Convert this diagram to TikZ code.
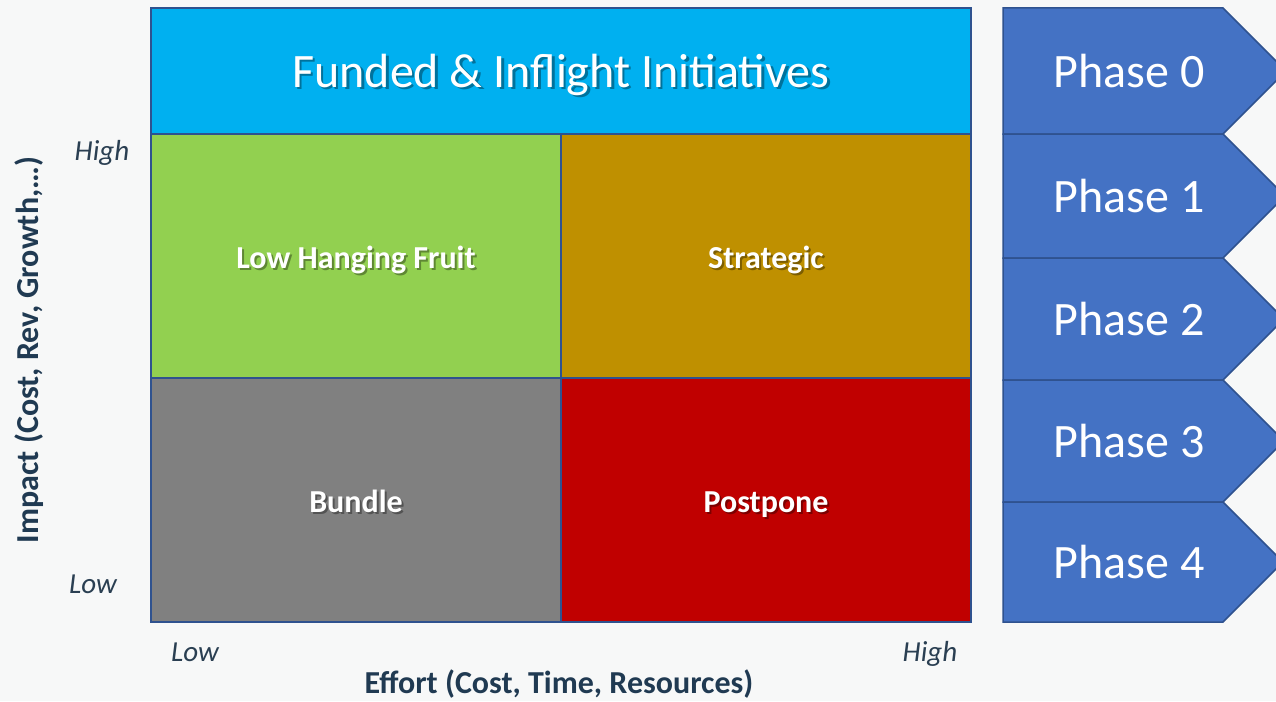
\documentclass[tikz,border=0pt]{standalone}
\usepackage{fontspec}
\setmainfont{Carlito}
\definecolor{bgc}{HTML}{F7F8F8}
\definecolor{topblue}{HTML}{00B0F0}
\definecolor{qgreen}{HTML}{92D050}
\definecolor{qgold}{HTML}{BF9000}
\definecolor{qgray}{HTML}{808080}
\definecolor{qred}{HTML}{C00000}
\definecolor{phblue}{HTML}{4472C4}
\definecolor{edgeblue}{HTML}{2F528F}
\definecolor{axistext}{HTML}{203A52}
\definecolor{ticktext}{HTML}{2A3F52}
\tikzset{
  cell/.style={draw=edgeblue, line width=1.5pt},
  phasebox/.style={draw=edgeblue, line width=1.5pt, fill=phblue},
  phasetext/.style={text=white, font=\fontsize{48}{54}\selectfont, inner sep=0pt, anchor=base},
  bigtext/.style={font=\fontsize{48}{54}\selectfont, inner sep=0pt, anchor=base},
  qlabel/.style={text=white, font=\fontsize{32}{38}\selectfont\bfseries, inner sep=0pt, anchor=base},
  qshadow/.style={text=black, opacity=0.35, font=\fontsize{32}{38}\selectfont\bfseries, inner sep=0pt, anchor=base},
  ticklabel/.style={text=ticktext, font=\fontsize{29}{34}\selectfont\itshape, inner sep=0pt, anchor=base},
  axislabel/.style={text=axistext, font=\fontsize{32}{38}\selectfont\bfseries, inner sep=0pt, anchor=base},
}
\begin{document}
\begin{tikzpicture}[x=1pt,y=-1pt]
\fill[bgc] (0,0) rectangle (1276,701);
\useasboundingbox (0,0) rectangle (1276,701);
% top band
\draw[cell, fill=topblue] (151,8) rectangle (971,134);
\node[bigtext, text=black, opacity=0.35] (fundsh) at (563.5,89.5) {Funded \& Inflight Initiatives};
\node[bigtext, text=white] (fund) at (561,87) {Funded \& Inflight Initiatives};
% quadrants
\draw[cell, fill=qgreen] (151,134) rectangle (561,378);
\draw[cell, fill=qgold] (561,134) rectangle (971,378);
\draw[cell, fill=qgray] (151,378) rectangle (561,622);
\draw[cell, fill=qred] (561,378) rectangle (971,622);
\node[qshadow] (lhfs) at (358,270) {Low Hanging Fruit};
\node[qlabel] (lhf) at (356,268) {Low Hanging Fruit};
\node[qshadow] (strs) at (768,270) {Strategic};
\node[qlabel] (str) at (766,268) {Strategic};
\node[qshadow] (buns) at (358,514) {Bundle};
\node[qlabel] (bun) at (356,512) {Bundle};
\node[qshadow] (posts) at (768,514) {Postpone};
\node[qlabel] (post) at (766,512) {Postpone};
% axis ticks
\node[ticklabel] (yhigh) at (102,160) {High};
\node[ticklabel] (ylow) at (93,593) {Low};
\node[ticklabel] (xlow) at (195,661) {Low};
\node[ticklabel] (xhigh) at (930,661) {High};
\node[axislabel] (xaxis) at (559,693) {Effort (Cost, Time, Resources)};
\node[axislabel, rotate=90] (yaxis) at (38,350) {Impact (Cost, Rev, Growth,…)};
% phases
\foreach \i/\t/\b in {0/8/134, 1/134/258, 2/258/380, 3/380/502, 4/502/622}{
  \pgfmathsetmacro{\m}{(\t+\b)/2}
  \pgfmathsetmacro{\h}{(\b-\t)/2}
  \pgfmathsetmacro{\bl}{\m+16}
  \draw[phasebox] (1003,\t) -- (1223,\t) -- ({1223+\h},\m) -- (1223,\b) -- (1003,\b) -- cycle;
  \node[phasetext] (ph\i) at (1129,\bl) {Phase \i};
}
\end{tikzpicture}
\end{document}
